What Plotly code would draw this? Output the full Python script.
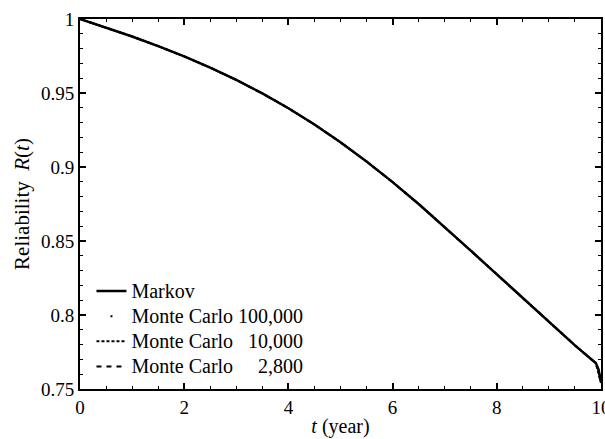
import plotly.graph_objects as go

# Data
t_years = [0.0, 0.5, 1.0, 1.5, 2.0, 2.5, 3.0, 3.5, 4.0, 4.5, 5.0, 5.5, 6.0,
           6.5, 7.0, 7.5, 8.0, 8.5, 9.0, 9.5, 9.9, 9.95, 10.0]
markov = [1.000, 0.9943, 0.9882, 0.9817, 0.9747, 0.9671, 0.9588, 0.9497,
          0.9397, 0.9287, 0.9167, 0.9037, 0.8898, 0.8750, 0.8595, 0.8435,
          0.8275, 0.8115, 0.7955, 0.7795, 0.7675, 0.7635, 0.7550]
mc_100000 = [1.000, 0.9943, 0.9882, 0.9817, 0.9747, 0.9671, 0.9588, 0.9497,
             0.9397, 0.9287, 0.9167, 0.9037, 0.8898, 0.8750, 0.8595, 0.8435,
             0.8275, 0.8115, 0.7955, 0.7795, 0.7675, 0.7625, 0.7560]
mc_10000 = [1.000, 0.9943, 0.9882, 0.9817, 0.9747, 0.9671, 0.9588, 0.9497,
            0.9397, 0.9287, 0.9167, 0.9037, 0.8898, 0.8750, 0.8595, 0.8435,
            0.8275, 0.8115, 0.7955, 0.7795, 0.7675, 0.7615, 0.7540]
mc_2800 = [1.000, 0.9943, 0.9882, 0.9817, 0.9747, 0.9671, 0.9588, 0.9497,
           0.9397, 0.9287, 0.9167, 0.9037, 0.8898, 0.8750, 0.8595, 0.8435,
           0.8275, 0.8115, 0.7955, 0.7795, 0.7675, 0.7630, 0.7530]

series_names = ["Markov",
                "Monte Carlo 100,000",
                "Monte Carlo \u00a0\u00a010,000",
                "Monte Carlo \u00a0\u00a0\u00a0\u00a02,800"]

FONT = "Liberation Serif, Times New Roman, serif"


def legend_label(text):
    return f'<span style="font-size:20px">{text}</span>'


fig = go.Figure()
fig.add_trace(go.Scatter(x=t_years, y=mc_2800, mode="lines", name=legend_label(series_names[3]),
                         line=dict(color="black", width=2, dash="5px,5px")))
fig.add_trace(go.Scatter(x=t_years, y=mc_10000, mode="lines", name=legend_label(series_names[2]),
                         line=dict(color="black", width=2, dash="3px,2px")))
fig.add_trace(go.Scatter(x=t_years, y=mc_100000, mode="lines", name=legend_label(series_names[1]),
                         line=dict(color="black", width=2, dash="0px,14px,2px,40px")))
fig.add_trace(go.Scatter(x=t_years, y=markov, mode="lines", name=legend_label(series_names[0]),
                         line=dict(color="black", width=2.5)))

axis_common = dict(
    showgrid=False, zeroline=False, showline=True, linecolor="black", linewidth=2,
    mirror="allticks", ticks="inside", ticklen=6, tickwidth=1.5, tickcolor="black",
    ticklabeloverflow="allow", automargin=False,
    tickfont=dict(family=FONT, size=19, color="black"),
)

fig.update_layout(
    width=605, height=439,
    margin=dict(l=80, r=4, t=19, b=50),
    paper_bgcolor="white", plot_bgcolor="white",
    font=dict(family=FONT, color="black"),
    showlegend=True,
    legend=dict(x=0.022, y=0.012, xanchor="left", yanchor="bottom",
                traceorder="reversed", bgcolor="rgba(0,0,0,0)",
                font=dict(family=FONT, size=17, color="black"),
                itemwidth=30, tracegroupgap=0),
    xaxis=dict(range=[0, 10], tick0=0, dtick=2,
               minor=dict(ticks="inside", ticklen=3, dtick=0.5, tickcolor="black", tickwidth=1.2),
               title=dict(text="<i>t</i> (year)", font=dict(family=FONT, size=20), standoff=2),
               **axis_common),
    yaxis=dict(range=[0.75, 1.0], tick0=0.75, dtick=0.05,
               minor=dict(ticks="inside", ticklen=3, dtick=0.01, tickcolor="black", tickwidth=1.2),
               title=dict(text="Reliability \u00a0<i>R</i>(<i>t</i>)", font=dict(family=FONT, size=21), standoff=6),
               **axis_common),
)

fig.write_html("out.html", config={"displayModeBar": False},
               post_script="document.body.style.margin='0';")
